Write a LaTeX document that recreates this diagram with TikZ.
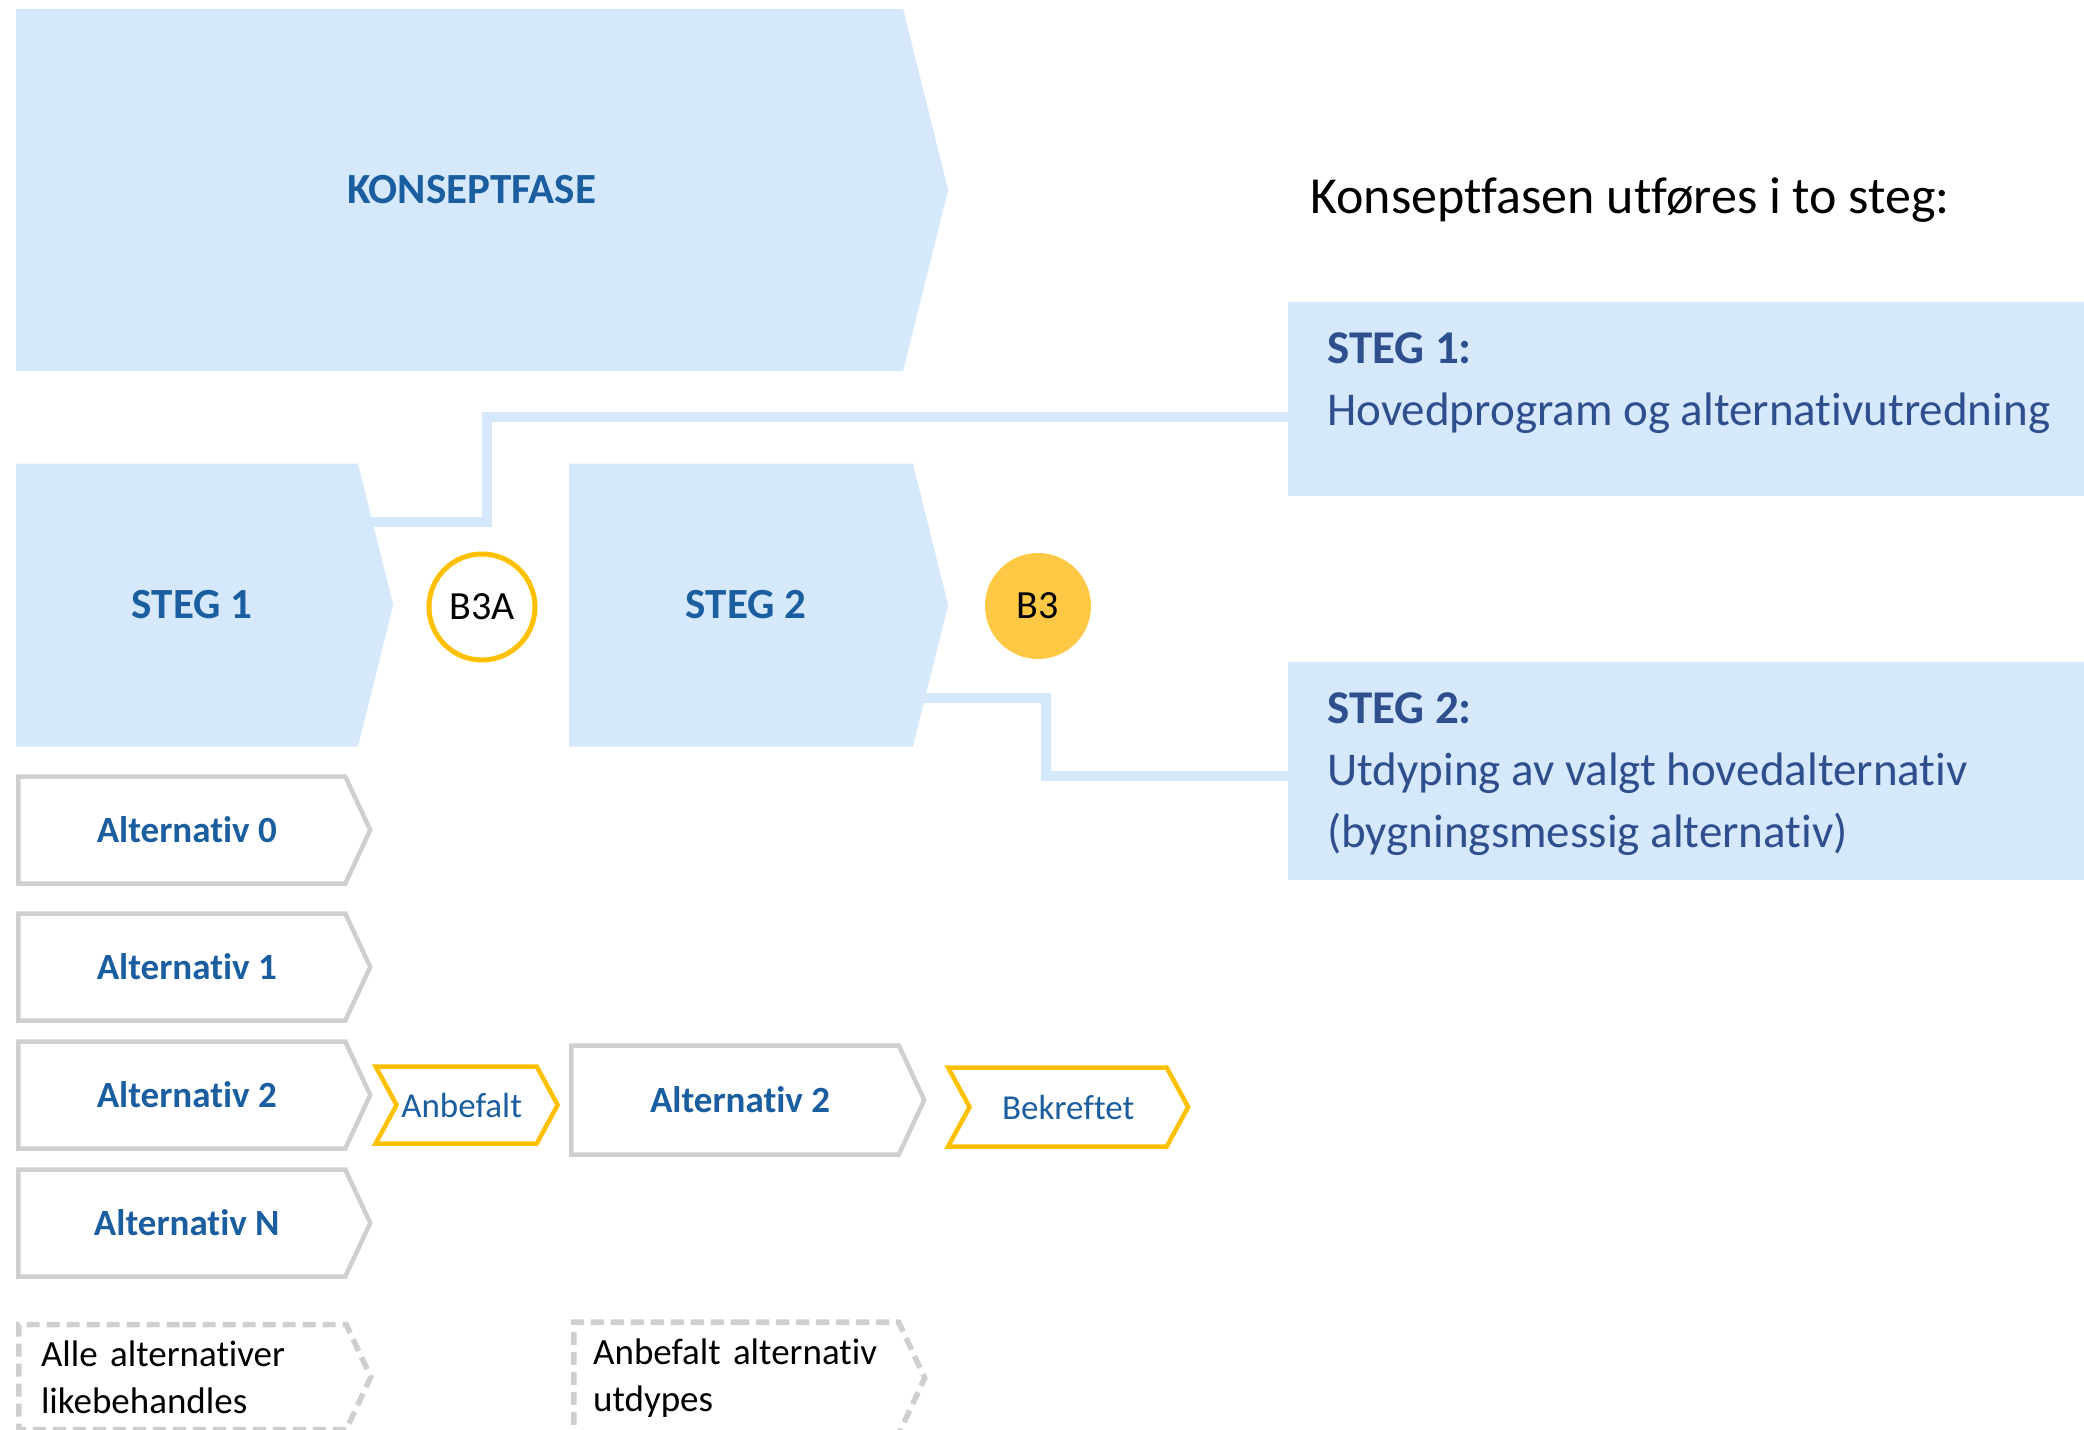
\documentclass[tikz,border=0pt]{standalone}
\usepackage{fontspec}
\setmainfont{Carlito}[Ligatures=NoCommon]
\usetikzlibrary{shapes.symbols,calc}

\definecolor{phasefill}{HTML}{D5E8FC}
\definecolor{phaseblue}{HTML}{1B5E9F}
\definecolor{infoblue}{HTML}{2F4E8D}
\definecolor{gatering}{HTML}{FFC000}
\definecolor{gatefill}{HTML}{FFC845}
\definecolor{altgray}{HTML}{CFCFCF}

\tikzset{
  phase/.style={signal, signal to=east, signal pointer angle=152, fill=phasefill,
    text=phaseblue, inner sep=0pt, font=\bfseries\fontsize{43}{50}\selectfont},
  altbox/.style={signal, signal to=east, signal pointer angle=130, draw=altgray,
    line width=4.5pt, fill=white, inner sep=0pt, minimum width=352pt, minimum height=107pt,
    text=phaseblue, font=\bfseries\fontsize{37}{43}\selectfont},
  tagbox/.style={signal, signal to=east, signal from=west, signal pointer angle=123,
    draw=gatering, line width=4.5pt, fill=white, inner sep=0pt, minimum height=77pt,
    text=phaseblue, font=\fontsize{35}{41}\selectfont},
  notebox/.style={altbox, line width=5.5pt, dash pattern=on 13pt off 7pt, text=black,
    align=left, font=\fontsize{37}{47}\selectfont},
  gate/.style={circle, minimum size=106pt, inner sep=0pt, text=black,
    font=\fontsize{40}{48}\selectfont},
  info/.style={rectangle, fill=phasefill, anchor=north west, inner sep=0pt},
  infotext/.style={anchor=north west, inner sep=0pt, align=left, text=infoblue,
    font=\fontsize{47}{62}\selectfont},
  link/.style={draw=phasefill, line width=10pt},
}

\begin{document}
\begin{tikzpicture}[x=1pt, y=-1pt]
  \useasboundingbox (0,0) rectangle (2084,1429);
  % faser
  \node[phase, anchor=west, minimum width=932pt, minimum height=362pt] (konsept) at (16,190) {\hspace*{24pt}KONSEPTFASE};
  \node[phase, anchor=west, minimum width=377pt, minimum height=283pt] (steg1) at (16,605) {\hspace*{10pt}STEG 1};
  \node[phase, anchor=west, minimum width=379pt, minimum height=283pt] (steg2) at (569,605) {\hspace*{10pt}STEG 2};
  % beslutningspunkter
  \node[gate, draw=gatering, line width=5pt, fill=white] (b3a) at (482,607) {B3A};
  \node[gate, fill=gatefill] (b3) at (1038,606) {B3};
  % forklaring til hoyre
  \node[anchor=base west, inner sep=0pt, font=\fontsize{52}{60}\selectfont] (intro) at (1310,213) {Konseptfasen utføres i to steg:};
  \node[info, minimum width=796pt, minimum height=194pt] (info1) at (1288,302) {};
  \node[info, minimum width=796pt, minimum height=218pt] (info2) at (1288,662) {};
  \node[infotext] (info1txt) at (1327,332) {\textbf{STEG 1:}\\Hovedprogram og alternativutredning};
  \node[infotext] (info2txt) at (1327,692) {\textbf{STEG 2:}\\Utdyping av valgt hovedalternativ\\(bygningsmessig alternativ)};
  % linjer
  \coordinate (k1) at (487,417);
  \coordinate (k2) at (1046,776);
  \draw[link] ([yshift=83pt]steg1.center) -| (k1) -- (k1 -| info1.west);
  \draw[link] ([yshift=-93pt]steg2.center) -| (k2) -- (k2 -| info2.west);
  % alternativer
  \foreach \nr/\y in {0/830, 1/967, 2/1095, N/1223}
    \node[altbox, anchor=west] (alt\nr) at (16,\y) {\hspace*{10pt}Alternativ \nr};
  \node[tagbox, anchor=west, minimum width=182pt] (anbefalt) at (394,1105) {\hspace*{-10pt}Anbefalt};
  \node[altbox, anchor=west, minimum width=353pt, minimum height=109pt] (valgt) at (569,1100) {\hspace*{10pt}Alternativ 2};
  \node[tagbox, anchor=west, minimum width=240pt, minimum height=79pt] (bekreftet) at (967,1107) {Bekreftet};
  \node[notebox, anchor=west, text width=283pt, minimum height=105pt] (note1) at (16,1377) {\mbox{Alle alternativer}\\likebehandles};
  \node[notebox, anchor=west, text width=286pt, minimum width=351pt, minimum height=112pt] (note2) at (571,1378) {\mbox{Anbefalt alternativ}\\utdypes};
\end{tikzpicture}
\end{document}
